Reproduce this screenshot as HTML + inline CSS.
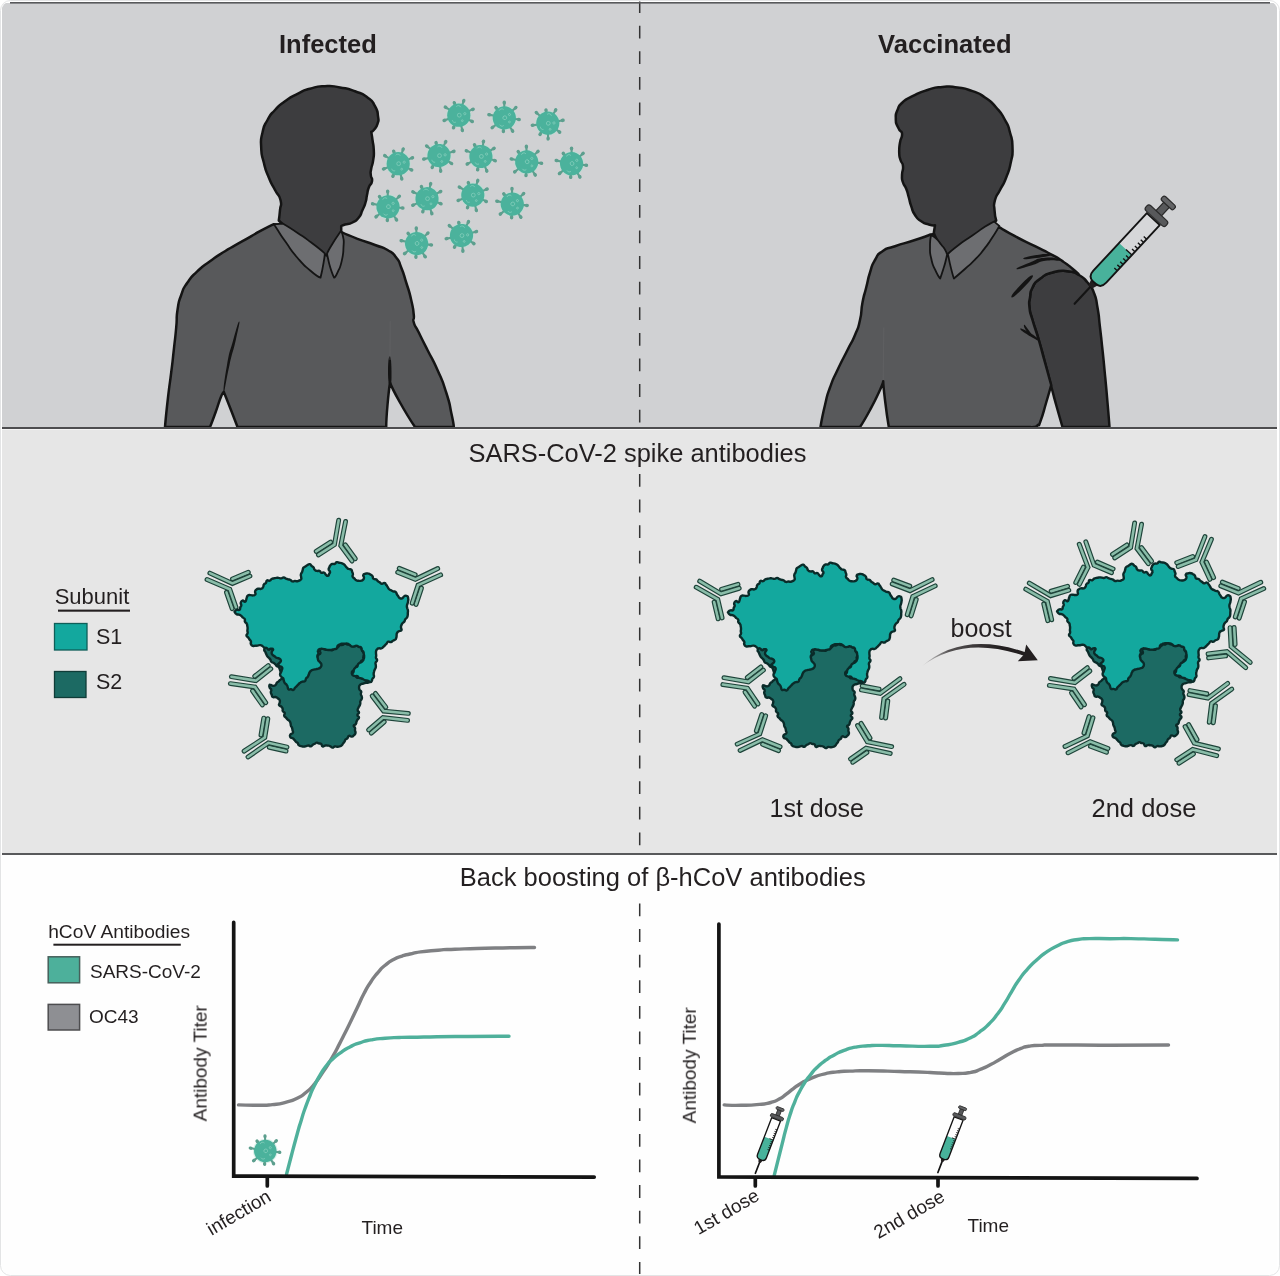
<!DOCTYPE html>
<html><head><meta charset="utf-8">
<style>
html,body{margin:0;padding:0;background:#fff;}
body{width:1280px;height:1276px;overflow:hidden;font-family:"Liberation Sans",sans-serif;}
svg{display:block;}
text{font-family:"Liberation Sans",sans-serif;fill:#231f20;}
</style></head>
<body>
<svg width="1280" height="1276" viewBox="0 0 1280 1276">
<defs>
<clipPath id="frame"><rect x="1.5" y="1.5" width="1276" height="1273" rx="9" ry="9"/></clipPath>
<clipPath id="clip1"><rect x="0" y="0" width="1280" height="427"/></clipPath>
<g id="virus"><circle r="12.7" fill="#b5e3d6" opacity=".5"/><line x1="2.9" y1="-8.5" x2="5.1" y2="-14.8" stroke="#5d9f8e" stroke-width="2.1" stroke-linecap="round"/><ellipse cx="4.9" cy="-14.4" rx="2.1" ry="1.75" transform="rotate(-71 4.9 -14.4)" fill="#5d9f8e"/><line x1="-3.1" y1="-8.5" x2="-4.6" y2="-12.6" stroke="#5d9f8e" stroke-width="2.1" stroke-linecap="round"/><ellipse cx="-4.4" cy="-12.2" rx="2.1" ry="1.75" transform="rotate(-110 -4.4 -12.2)" fill="#5d9f8e"/><line x1="-7.7" y1="-4.6" x2="-13.5" y2="-8.1" stroke="#5d9f8e" stroke-width="2.1" stroke-linecap="round"/><ellipse cx="-13.2" cy="-7.9" rx="2.1" ry="1.75" transform="rotate(-149 -13.2 -7.9)" fill="#5d9f8e"/><line x1="8.3" y1="-3.5" x2="14.4" y2="-6.1" stroke="#5d9f8e" stroke-width="2.1" stroke-linecap="round"/><ellipse cx="14" cy="-5.9" rx="2.1" ry="1.75" transform="rotate(-23 14 -5.9)" fill="#5d9f8e"/><line x1="-8.5" y1="3.1" x2="-14.8" y2="5.4" stroke="#5d9f8e" stroke-width="2.1" stroke-linecap="round"/><ellipse cx="-14.4" cy="5.2" rx="2.1" ry="1.75" transform="rotate(160 -14.4 5.2)" fill="#5d9f8e"/><line x1="8.2" y1="3.8" x2="13.6" y2="6.3" stroke="#5d9f8e" stroke-width="2.1" stroke-linecap="round"/><ellipse cx="13.2" cy="6.2" rx="2.1" ry="1.75" transform="rotate(25 13.2 6.2)" fill="#5d9f8e"/><line x1="-3.5" y1="8.3" x2="-5.4" y2="12.7" stroke="#5d9f8e" stroke-width="2.1" stroke-linecap="round"/><ellipse cx="-5.2" cy="12.3" rx="2.1" ry="1.75" transform="rotate(113 -5.2 12.3)" fill="#5d9f8e"/><line x1="2" y1="8.8" x2="3.6" y2="15.4" stroke="#5d9f8e" stroke-width="2.1" stroke-linecap="round"/><ellipse cx="3.5" cy="15" rx="2.1" ry="1.75" transform="rotate(77 3.5 15)" fill="#5d9f8e"/><circle r="11.6" fill="#4bb29c"/><g fill="none" stroke="#8fd3c1" stroke-width=".8" opacity=".8"><circle cx=".5" cy="0" r="1.9"/><circle cx="6" cy="-1.5" r="1.1"/><path d="M-2.5 -8.5a2.6 2.6 0 0 1 4.5 .5"/><path d="M-6.5 5a2.5 2.5 0 0 0 3.5 2"/><circle cx="3.5" cy="5.5" r=".9"/></g></g><g id="ab" fill="none" stroke-linecap="round" stroke-linejoin="miter"><path d="M-7.4 -1.8L-19.9 10" stroke="#1e443a" stroke-width="4.9"/><path d="M-7.4 -1.8L-19.9 10" stroke="#8abda9" stroke-width="2.55"/><path d="M7.4 -1.8L19.9 10" stroke="#1e443a" stroke-width="4.9"/><path d="M7.4 -1.8L19.9 10" stroke="#8abda9" stroke-width="2.55"/><path d="M-3.5 -24.8L-3.2 0L-17.1 13" stroke="#1e443a" stroke-width="4.9"/><path d="M-3.5 -24.8L-3.2 0L-17.1 13" stroke="#8abda9" stroke-width="2.55"/><path d="M3.5 -24.8L3.2 0L17.1 13" stroke="#1e443a" stroke-width="4.9"/><path d="M3.5 -24.8L3.2 0L17.1 13" stroke="#8abda9" stroke-width="2.55"/></g><g id="syr"><line x1="0" y1="0" x2="0" y2="-13.5" stroke="#141414" stroke-width="1.05" stroke-linecap="round"/><path d="M-1.2 -11.6L1.2 -11.6L2.4 -15L-2.4 -15Z" fill="#231f20"/><path d="M-4.4 -57.8L-4.4 -18.5Q-4.4 -14.5 -0.9 -14.5L0.9 -14.5Q4.4 -14.5 4.4 -18.5L4.4 -57.8Z" fill="#ffffff" fill-opacity=".14"/><path d="M-4.4 -37.4L-4.4 -18.5Q-4.4 -14.5 -0.9 -14.5L0.9 -14.5Q4.4 -14.5 4.4 -18.5L4.4 -37.4Z" fill="#48b29b"/><path d="M4.4 -26.6L2.4 -26.6M4.4 -28.8L2.4 -28.8M4.4 -30.9L2.4 -30.9M4.4 -33.1L2.4 -33.1M4.4 -35.2L2.4 -35.2M4.4 -37.4L0.3 -37.4M4.4 -39.6L2.4 -39.6M4.4 -41.7L2.4 -41.7M4.4 -43.9L2.4 -43.9M4.4 -46L2.4 -46M4.4 -48.2L2.4 -48.2" stroke="#141414" stroke-width="0.7" fill="none"/><path d="M-4.4 -57.8L-4.4 -18.5Q-4.4 -14.5 -0.9 -14.5L0.9 -14.5Q4.4 -14.5 4.4 -18.5L4.4 -57.8Z" fill="none" stroke="#141414" stroke-width="0.95" stroke-linejoin="round"/><rect x="-1.9" y="-67.8" width="3.8" height="6.4" fill="#58595b" stroke="#2b2b2b" stroke-width="0.6"/><rect x="-6.85" y="-61.85" width="13.7" height="3.45" rx="1.4" fill="#58595b" stroke="#2b2b2b" stroke-width="0.6"/><rect x="-4.15" y="-70.2" width="8.3" height="2.7" rx="1.1" fill="#636466" stroke="#2b2b2b" stroke-width="0.6"/></g><g id="syrs"><line x1="0" y1="0" x2="0" y2="-13.5" stroke="#141414" stroke-width="1.7" stroke-linecap="round"/><path d="M-1.2 -11.6L1.2 -11.6L2.4 -15L-2.4 -15Z" fill="#231f20"/><path d="M-4.75 -57.8L-4.75 -18.5Q-4.75 -14.5 -0.9 -14.5L0.9 -14.5Q4.75 -14.5 4.75 -18.5L4.75 -57.8Z" fill="#ffffff" fill-opacity=".14"/><path d="M-4.75 -37.4L-4.75 -18.5Q-4.75 -14.5 -0.9 -14.5L0.9 -14.5Q4.75 -14.5 4.75 -18.5L4.75 -37.4Z" fill="#48b29b"/><path d="M4.8 -26.6L2.8 -26.6M4.8 -28.8L2.8 -28.8M4.8 -30.9L2.8 -30.9M4.8 -33.1L2.8 -33.1M4.8 -35.2L2.8 -35.2M4.8 -37.4L0.7 -37.4M4.8 -39.6L2.8 -39.6M4.8 -41.7L2.8 -41.7M4.8 -43.9L2.8 -43.9M4.8 -46L2.8 -46M4.8 -48.2L2.8 -48.2" stroke="#141414" stroke-width="0.8" fill="none"/><path d="M-4.75 -57.8L-4.75 -18.5Q-4.75 -14.5 -0.9 -14.5L0.9 -14.5Q4.75 -14.5 4.75 -18.5L4.75 -57.8Z" fill="none" stroke="#141414" stroke-width="1.35" stroke-linejoin="round"/><rect x="-1.9" y="-67.8" width="3.8" height="6.4" fill="#58595b" stroke="#2b2b2b" stroke-width="0.8"/><rect x="-6.85" y="-61.85" width="13.7" height="3.45" rx="1.4" fill="#58595b" stroke="#2b2b2b" stroke-width="0.8"/><rect x="-4.15" y="-70.2" width="8.3" height="2.7" rx="1.1" fill="#636466" stroke="#2b2b2b" stroke-width="0.8"/></g><g id="blob" stroke="#0a2b29" stroke-width="2.4" stroke-linejoin="round"><path d="M265.2 647.9C264.9 648.6 264.2 648.5 264.2 649.9C264.2 651.2 264.6 650.5 265.3 651.9C265.9 653.3 265.5 652.6 266.2 654C266.8 655.4 266.4 654.8 267.2 656.1C268.1 657.3 267.8 656.6 268.8 657.8C269.8 658.9 269.4 658.2 270.3 659.5C271.1 660.8 270.3 660.5 271.3 661.7C272.3 662.8 272.1 662 273.4 662.8C274.7 663.6 274.1 663.1 275.2 664.1C276.3 665.2 275.5 665 276.7 666C277.9 667 277.7 666 278.7 667.1C279.7 668.2 279.1 667.8 279.7 669.1C280.2 670.5 279.8 669.9 280.4 671.2C281 672.6 280.3 672.5 281.4 673.2C282.4 673.9 282.3 673.6 283.6 673.3C284.9 673 284.5 673.3 285.3 672.1C286 671 285.8 671.4 285.8 669.8C285.8 668.3 285.6 669.1 285.3 667.5C285.1 666 285.4 666.7 285 665.2C284.6 663.7 284.9 664.4 284.2 663.1C283.4 661.7 283.3 662.6 282.7 661.2C282.1 659.8 282.8 660.3 282.3 658.8C281.8 657.4 282 658.1 281.1 656.8C280.3 655.5 280.7 656.2 279.9 654.9C279 653.7 279.2 654.5 278.5 653.1C277.7 651.7 278.6 652 277.6 650.8C276.7 649.7 276.9 650.5 275.6 649.6C274.3 648.7 275.1 649.1 273.8 648.1C272.6 647.2 273.3 647.5 271.8 646.9C270.4 646.3 271.1 646.6 269.5 646.3C268 646.1 268.6 645.7 267.1 646.2C265.7 646.6 265.9 647.1 265.2 647.7C264.6 648.3 265.6 647.2 265.2 647.9Z" fill="#1c6a63"/><path d="M320.8 649.2C321.8 648.5 321.4 648.7 322.8 648.8C324.3 648.8 323.5 649 325.1 649.4C326.6 649.8 325.9 649.7 327.5 649.8C329.1 649.9 328.3 649.6 329.9 649.7C331.5 649.8 330.9 650.7 332.4 650.2C333.9 649.8 333 649.1 334.4 648.3C335.8 647.5 335.3 648.4 336.7 647.8C338.1 647.2 337.4 647.4 338.6 646.5C339.8 645.6 339 645.6 340.3 645C341.6 644.5 341 645.3 342.6 644.9C344.2 644.4 343.4 643.8 345 643.6C346.5 643.5 345.7 644.1 347.3 644.5C348.9 644.9 348.2 644.4 349.7 644.9C351.2 645.4 350.4 645.5 351.9 646C353.4 646.4 352.6 646.4 354.3 646.2C355.9 646 355.2 645.3 356.8 645.4C358.4 645.5 357.6 645.7 359.1 646.5C360.6 647.4 360.4 646.5 361.3 647.8C362.3 649 361.3 648.8 362 650.3C362.6 651.8 362.3 650.9 363.3 652.2C364.2 653.5 364.8 652.9 364.8 654.3C364.8 655.8 363.7 654.9 363.3 656.6C362.8 658.2 364.1 657.8 363.5 659.2C362.9 660.7 362.4 659.5 361.4 660.8C360.4 662.1 361.3 661.7 360.6 663.2C359.9 664.6 360.6 664.3 359.3 665.3C358 666.2 357.8 665 356.6 666.1C355.5 667.3 356.7 667.3 355.8 668.7C355 670 355.4 669.1 354.1 670.2C352.7 671.3 352.4 670.5 351.9 671.9C351.4 673.4 351.5 673.5 352.6 674.6C353.8 675.8 353.9 674.4 355.3 675.4C356.7 676.4 355.5 676.9 356.9 677.6C358.3 678.3 357.9 677.2 359.5 677.5C361.1 677.8 360.1 678.2 361.7 678.5C363.3 678.8 362.8 677.8 364.2 678.4C365.7 679.1 364.7 679.6 366.1 680.4C367.5 681.2 367.1 680.3 368.5 680.8C369.9 681.2 369.8 681.4 370.3 681.7C370.8 682.1 370.9 681.4 370.1 681.7C369.3 682 369.5 682.3 368 682.7C366.5 683 367.1 682.5 365.6 682.8C364.1 683.1 364.8 683.1 363.3 683.6C361.8 684 362.3 683.5 361.1 684.1C359.9 684.7 360.4 684.4 359.7 685.4C359 686.4 359.2 685.8 359.1 687.2C359.1 688.6 358.9 688.1 359.5 689.5C360.2 691 360.7 690 361.2 691.5C361.6 693.1 360.6 692.5 360.8 694.1C361 695.8 361.4 694.8 361.7 696.4C362 698 362.2 697.3 361.7 698.9C361.3 700.4 360.8 699.5 360.4 701C359.9 702.6 360.5 701.9 360.3 703.5C360 705.1 360.1 704.3 359.5 705.8C358.9 707.3 359 706.4 358.4 707.9C357.8 709.4 357.5 708.7 357.7 710.3C357.8 711.8 359 711 359 712.6C358.9 714.2 357.4 713.4 357.4 715C357.4 716.7 359 715.9 359 717.5C359 719.1 358.3 718.3 357.5 719.7C356.7 721.1 357.1 720.3 356.5 721.7C356 723.1 356.7 722.7 355.8 724C354.9 725.4 354 724.3 353.7 725.6C353.4 726.9 354.5 726.4 355 727.9C355.4 729.5 354.8 728.6 355 730.3C355.2 732 355.8 731.4 355.5 733C355.2 734.6 355.2 734 354 735.2C352.7 736.4 353.4 736.3 351.7 736.6C350 736.8 350.3 735.3 348.9 735.9C347.5 736.4 348.6 736.9 347.5 738.1C346.4 739.4 346.5 738.4 345.5 739.6C344.5 740.8 345.3 740.4 344.5 741.7C343.7 742.9 344 742.1 343.1 743.4C342.2 744.6 342.9 744.4 341.7 745.4C340.5 746.4 341 745.9 339.5 746.4C337.9 746.8 338.7 746.7 337.1 746.8C335.5 746.8 336.3 746.2 334.7 746.5C333.1 746.8 333.8 747.8 332.2 747.6C330.7 747.5 331.6 746.7 330 746.1C328.5 745.4 329.2 745.8 327.6 745.6C326 745.4 326.9 745.2 325.3 745.5C323.6 745.7 324 746.9 322.6 746.4C321.2 745.9 322.4 745 321.2 744C319.9 743 320.2 743.9 318.7 743.4C317.3 743 318.2 742.5 316.9 742.6C315.6 742.7 316.3 743 314.9 743.7C313.5 744.4 314.1 743.8 312.8 744.7C311.5 745.5 312.4 746 310.9 746.3C309.5 746.6 310.1 745.6 308.5 745.5C306.8 745.5 307.7 745.8 306.1 746.1C304.5 746.5 305.3 746.6 303.7 746.6C302 746.6 302.8 746.6 301.2 746.2C299.6 745.7 300 746.2 298.8 745.2C297.6 744.1 298.6 744.2 297.7 743.1C296.7 742 297.1 742.8 296 741.8C294.9 740.7 295.4 741 294.3 739.8C293.2 738.7 294 739.2 292.7 738.3C291.3 737.4 291.1 738.4 290.3 737.1C289.5 735.8 289.5 735.9 290.4 734.5C291.3 733 292.2 734.1 292.9 732.7C293.6 731.2 292.7 731.8 292.5 730.1C292.2 728.5 292.5 729.2 292 727.7C291.5 726.3 291.5 727.2 290.9 725.6C290.4 724.1 291 724.8 290.5 723.2C290 721.7 290.5 722.2 289.5 721C288.5 719.7 288.7 720.6 287.5 719.4C286.4 718.3 287.1 718.8 286 717.6C284.9 716.4 284.6 717.3 284.2 715.8C283.7 714.3 285.1 714.6 284.7 713C284.2 711.5 283.5 712.6 282.8 711.1C282.1 709.7 283.1 710.2 282.6 708.7C282.1 707.2 282.5 707.9 281.3 706.7C280.1 705.5 279.6 706.6 279.1 705.2C278.5 703.8 279.5 704.3 279.7 702.6C279.9 700.8 280.3 701.4 279.6 700C279 698.5 279 699.2 277.7 698.2C276.3 697.2 277.2 697.4 275.5 697C273.9 696.6 274.1 697.8 272.8 697C271.5 696.2 272.3 696.1 271.6 694.6C271 693 270.9 693.9 270.8 692.3C270.7 690.7 271.7 691.2 271.3 689.7C271 688.2 270.3 689.2 269.7 687.7C269 686.2 269.1 686.1 269.4 685.2C269.8 684.3 269.6 684.8 270.8 685C271.9 685.2 271.3 685.8 272.8 685.8C274.4 685.8 274.2 686.1 275.5 685.1C276.9 684.1 275.8 684 276.8 682.7C277.9 681.5 277.5 682.3 278.7 681.3C279.9 680.2 279.1 680.5 280.4 679.7C281.6 678.9 281 678.9 282.5 678.8C283.9 678.7 283.5 678.7 284.8 679.5C286.1 680.3 285.2 680.8 286.4 681.2C287.7 681.7 287.1 681.2 288.6 680.9C290 680.5 289.2 680.7 290.7 680.2C292.3 679.7 291.9 680.3 293.3 679.5C294.7 678.6 294.1 679 294.9 677.5C295.8 676.1 295.2 676.7 295.8 675.2C296.5 673.7 296.2 674.5 296.9 673C297.5 671.5 297.2 672.3 297.9 670.8C298.6 669.3 298 669.9 298.9 668.6C299.9 667.3 299.4 667.8 300.7 666.9C302.1 665.9 301.6 666.6 303 665.8C304.4 664.9 303.8 665.5 304.8 664.3C305.9 663.1 304.9 663.1 306.2 662.1C307.4 661.1 307.1 662 308.5 661.4C310 660.7 309.2 660.9 310.6 660.2C312 659.4 311.3 659.8 312.7 659.1C314.1 658.3 313.4 658.7 314.9 658C316.3 657.3 315.8 657.9 317 656.9C318.2 655.8 317.3 656 318.4 654.8C319.6 653.6 320 654.6 320.4 653.2C320.9 651.9 319.6 652.1 319.8 650.7C319.9 649.4 319.7 649.9 320.8 649.2Z" fill="#1c6a63"/><path d="M235 611.2C235.7 610.4 235.5 610.3 237 609.8C238.6 609.3 238.5 610.5 239.6 609.7C240.7 608.9 239.8 608.8 240.3 607.4C240.9 605.9 241.1 606.8 241.3 605.3C241.4 603.8 240.4 604.4 240.8 602.9C241.2 601.3 241 601 242.4 600.6C243.8 600.2 243.7 601.9 245 601.7C246.2 601.5 245.5 601.3 246.1 600C246.6 598.7 246.1 599.4 246.7 597.9C247.3 596.4 246.6 596.5 247.9 595.5C249.2 594.6 248.9 595.2 250.5 595.1C252.2 595.1 251.3 595.6 252.9 595.4C254.5 595.2 254.6 595.7 255.3 594.5C256.1 593.2 254.8 593.3 255.1 591.6C255.5 590 255.2 590.5 256.5 589.5C257.7 588.5 257.2 588.9 258.9 588.7C260.5 588.4 260 589.4 261.4 588.7C262.9 588.1 262.3 588.2 263.2 586.8C264 585.3 263 585.7 263.9 584.5C264.8 583.2 264.9 584.4 265.9 583.1C266.9 581.8 265.7 581.3 266.9 580.5C268.2 579.7 268.1 581.2 269.7 580.7C271.2 580.2 270.2 579.8 271.6 579C273.1 578.2 272.4 578.7 274 578.3C275.5 578 274.7 578.1 276.3 577.9C277.9 577.8 277.1 577.7 278.8 577.9C280.4 578 279.6 578.5 281.2 578.4C282.8 578.3 282.1 577.5 283.7 577.5C285.2 577.6 284.4 578 285.9 578.6C287.4 579.2 286.7 578.8 288.2 579.3C289.7 579.8 289 579.3 290.5 580C291.9 580.8 291 581.1 292.5 581.4C294 581.7 293.4 581.1 294.9 581C296.5 581 295.7 581.4 297.1 581.3C298.5 581.1 297.7 581.3 299 580.6C300.4 580 300.4 580.6 301.1 579.3C301.8 578 301.1 578.4 301.1 576.8C301 575.2 300.6 575.9 300.9 574.4C301.2 572.8 301.4 573.7 302 572.2C302.6 570.7 302.2 571.4 302.7 569.9C303.2 568.3 302.5 568.7 303.5 567.6C304.6 566.4 304.4 567.2 305.7 566.3C307.1 565.5 306.2 565.7 307.5 565C308.9 564.3 308.4 563.9 309.8 564.2C311.2 564.6 310.5 564.9 311.7 566C313 567 312.6 566.1 313.6 567.4C314.6 568.7 313.5 568.6 314.6 569.7C315.7 570.9 315.3 570.5 316.9 570.9C318.6 571.3 318 570.3 319.5 570.9C321 571.5 319.8 572.2 321.3 572.8C322.9 573.3 322.7 572 324.1 572.6C325.6 573.2 324.4 573.4 325.7 574.5C327 575.6 326.8 576 327.9 575.8C329.1 575.6 328.5 575.2 329.2 573.8C329.9 572.5 330.2 573.2 330 571.8C329.9 570.4 328.9 571.2 328.7 569.6C328.5 568.1 328.8 568.7 329.4 567.2C330 565.7 329.4 566.3 330.4 565.3C331.3 564.2 330.8 564.5 332.2 564C333.7 563.6 333.2 564.4 334.7 563.8C336.2 563.2 335.2 562.5 336.7 562.2C338.2 561.9 337.6 562.5 339.2 562.8C340.7 563.1 340 562.7 341.5 563.1C343 563.6 342.3 563.3 343.6 564.1C344.9 565 344.2 564.5 345.3 565.7C346.4 566.9 345.7 566.6 346.9 567.7C348.1 568.8 347.4 568.4 348.9 569C350.4 569.7 350.2 568.8 351.3 569.7C352.4 570.7 351.6 570.4 352.2 571.9C352.7 573.3 352.8 572.5 352.9 574.1C353.1 575.6 352.1 575.1 352.6 576.5C353 578 353.1 577.2 354.3 578.4C355.5 579.6 354.7 579.3 356.1 580.1C357.6 581 356.9 580.6 358.6 580.8C360.2 581 359.5 581 361 580.7C362.4 580.3 361.9 580.8 362.9 579.8C363.9 578.8 363.9 579.4 364 577.7C364.1 576.1 362.7 576.3 363.3 575C363.8 573.6 364.1 574.2 365.7 573.7C367.4 573.2 366.6 573.3 368.2 573.6C369.8 573.9 369.2 573.7 370.6 574.6C372 575.4 371.5 574.8 372.5 576.2C373.4 577.6 372.3 577.6 373.4 578.7C374.6 579.8 374.6 578.6 376 579.4C377.4 580.2 376.5 580 377.7 581C378.9 582 378.3 581.4 379.6 582.3C381 583.3 380.1 583.5 381.7 583.7C383.3 584 383 582.6 384.5 583C386 583.3 385.2 583.6 386.2 584.9C387.3 586.2 386.7 585.5 387.6 586.9C388.5 588.3 387.8 587.9 388.9 589C390.1 590.2 389.7 589.6 391.1 590.3C392.6 591.1 391.7 590.7 393.3 591.3C394.8 591.8 394.5 591 395.7 592C396.9 592.9 396.1 592.8 396.8 594.2C397.6 595.5 397.1 594.8 398.1 596.1C399.1 597.4 398.3 597.5 399.8 598.1C401.3 598.8 400.9 598.8 402.5 598.1C404.1 597.3 403 596.6 404.5 596C406 595.3 405.9 595.2 407.1 596.1C408.4 597 407.9 596.9 408.2 598.6C408.5 600.2 408.3 599.4 408.1 601.1C407.9 602.7 408 601.9 407.6 603.4C407.2 605 407 604.2 406.9 605.8C406.8 607.3 406.9 606.6 407.2 608.2C407.6 609.7 407.7 608.8 407.9 610.4C408.1 612 407.9 611.2 407.8 612.9C407.7 614.5 408 613.7 407.7 615.3C407.4 616.9 407.7 616.2 406.9 617.6C406 618.9 406.1 618 405.2 619.4C404.4 620.7 405.2 620.3 404.4 621.5C403.5 622.8 403.6 621.9 402.6 623.1C401.7 624.3 402 623.7 401.4 625.2C400.9 626.7 401 625.9 401 627.6C401 629.2 402.1 629 401.4 630.3C400.6 631.5 400.2 630.4 398.8 631.3C397.3 632.3 397.8 631.7 397 633.1C396.3 634.5 396.8 634 396.6 635.5C396.4 637 396.8 636.2 396.3 637.6C395.8 639 396.3 638.7 395.2 639.7C394 640.7 394.4 639.9 392.9 640.7C391.5 641.4 392.4 641.7 390.8 642.1C389.3 642.4 389.6 641.2 388.2 641.7C386.8 642.2 387.7 642.4 386.6 643.6C385.6 644.7 386.1 644 385.1 645.1C384 646.2 384.6 645.8 383.3 646.9C382.1 648 382.8 647.9 381.2 648.4C379.7 648.9 380.1 648 378.7 648.4C377.3 648.7 377.8 648.5 377 649.4C376.1 650.3 376.5 649.8 376.1 651.1C375.8 652.3 376 651.7 376 653.2C376 654.7 376.2 654 376.2 655.6C376.2 657.2 375.7 656.4 376 658C376.3 659.5 377.2 658.7 377.1 660.3C377 661.8 376.1 661.1 375.6 662.7C375.2 664.3 375.7 663.4 375.8 665.1C375.8 666.7 376.1 666 375.7 667.6C375.4 669.1 375.3 668.3 374.7 669.7C374.1 671.2 374.3 670.5 374 672C373.6 673.5 373.7 672.7 373.7 674.3C373.6 675.9 374.3 675.2 373.9 676.8C373.4 678.3 373 677.6 372.3 679C371.6 680.3 372.5 679.8 371.8 680.8C371.2 681.9 371.5 682.1 370.2 682C369 682 369.7 681.4 368.2 680.8C366.7 680.2 367.3 680.7 365.8 680.3C364.3 679.8 365.1 680.1 363.6 679.5C362.2 678.8 363 678.9 361.5 678.4C360 677.8 360.6 678.5 359.1 677.8C357.7 677.1 358.7 676.8 357.2 676.2C355.6 675.6 356.2 676.6 354.6 676C352.9 675.4 352.6 675.8 352.3 674.5C351.9 673.1 353 673.5 353.5 671.9C354 670.3 353.3 671.1 353.9 669.7C354.5 668.3 354.1 668.8 355.3 667.7C356.4 666.6 356.3 667.6 357.3 666.4C358.3 665.2 357.2 665.3 358.2 664C359.2 662.8 358.9 663.5 360.3 662.6C361.7 661.7 361.3 662.4 362.4 661.2C363.5 660 363.1 660.6 363.6 659C364.2 657.4 364.1 658.2 364.1 656.5C364.2 654.9 364.1 655.7 363.8 654.1C363.5 652.6 364 653.3 363.4 651.9C362.7 650.5 362.7 651.5 361.9 650C361.2 648.6 362.2 648.6 361.1 647.5C360 646.5 360.2 647.5 358.7 646.8C357.2 646.2 358.1 645.8 356.5 645.7C354.9 645.5 355.6 646.2 354 646.4C352.4 646.6 353 646.9 351.5 646.3C350 645.7 350.9 645.5 349.5 644.7C348 643.8 348.8 644 347.2 643.7C345.6 643.3 346.4 643.7 344.7 643.7C343 643.7 343.8 643.4 342.2 643.7C340.5 643.9 341.3 643.7 339.8 644.4C338.2 645.1 338.6 644.5 337.7 645.8C336.7 647.2 337.9 647.3 336.8 648.4C335.8 649.5 336 648.7 334.4 649.1C332.8 649.5 333.7 649.4 332.1 649.7C330.5 650.1 331.2 650 329.6 650C328 650.1 328.8 650.1 327.2 649.9C325.6 649.6 326.4 649.6 324.8 649.3C323.3 649 324.1 649 322.6 648.9C321 648.8 321.6 648.4 320.1 649C318.6 649.5 318.6 649.1 318 650.6C317.4 652 318.6 651.6 318.4 653.3C318.2 655 317.6 654.1 317.4 655.7C317.2 657.4 317.4 656.6 317.8 658.2C318.1 659.8 317.6 659.2 318.4 660.6C319.2 662 319.2 661.1 320.2 662.5C321.3 663.9 321.4 663.2 321.4 664.8C321.5 666.3 321.6 666 320.5 667.3C319.5 668.6 319.8 667.9 318.3 668.6C316.8 669.2 317.5 668.8 316 669.2C314.4 669.5 315.1 669.2 313.6 669.7C312 670.1 312.6 669.7 311.2 670.6C309.9 671.6 310.4 671.1 309.6 672.5C308.7 673.9 309.3 673.4 308.7 674.9C308 676.3 308.5 675.7 307.6 677C306.7 678.2 306.8 677.2 306 678.6C305.1 680 306.2 680.2 305 681.2C303.8 682.2 304 681.2 302.4 681.7C300.8 682.2 301.5 681.8 300.2 682.7C298.8 683.6 299.6 683.3 298.4 684.4C297.3 685.5 297.8 684.9 296.7 686.1C295.6 687.2 296.1 686.6 295 687.8C293.9 689.1 294.8 689.3 293.4 689.8C292 690.3 292.5 689.5 290.9 689.3C289.2 689.1 289.6 690.1 288.5 689.2C287.4 688.4 288.3 688.3 287.6 686.8C287 685.3 287.6 686 286.6 684.7C285.7 683.4 285.7 684.3 284.8 683C283.9 681.6 284.4 682.3 283.8 680.8C283.3 679.2 284 679.6 283.2 678.3C282.3 677 282.3 678.1 281.3 676.8C280.3 675.6 280.2 676.1 280.1 674.6C280 673 280.4 673.7 281 672.2C281.5 670.8 281.3 671.8 281.7 670.2C282.1 668.7 282.7 668.9 282.1 667.6C281.6 666.2 281.5 667.1 280 666.2C278.6 665.2 277.8 665.9 277.7 664.7C277.6 663.6 278.6 664.2 279.6 662.8C280.7 661.3 281.1 661.9 280.9 660.4C280.6 659 280.3 659.3 278.8 658.4C277.3 657.6 277.8 658.5 276.4 657.8C275 657.1 275.8 657.3 274.5 656.2C273.2 655.2 273.4 656 272.5 654.7C271.5 653.3 271.5 654 271.7 652.2C271.9 650.4 273.4 650.4 273.1 649.3C272.7 648.2 272.2 648.7 270.7 648.8C269.2 649 269.9 650 268.6 649.7C267.3 649.4 268.2 648.7 266.8 648C265.4 647.4 265.8 648.3 264.3 647.7C262.8 647 263.8 646.8 262.4 646C261 645.1 261.7 645.2 260.1 645.1C258.5 645 259.2 645.4 257.6 645.6C256 645.8 256.9 645.6 255.3 645.7C253.7 645.8 254.3 646.3 252.8 645.8C251.4 645.2 251.5 645.5 250.9 644C250.2 642.5 251.4 642.9 250.9 641.4C250.4 639.9 250.4 640.8 249.5 639.5C248.6 638.2 249.2 638.8 248.2 637.5C247.2 636.2 246.7 637.1 246.5 635.6C246.3 634.1 247.3 634.8 247.6 633.1C247.9 631.5 247.4 632.3 247.4 630.7C247.4 629.2 247.6 630 247.6 628.4C247.6 626.8 247.6 627.6 247.3 626C247 624.4 247.5 625 246.7 623.6C246 622.2 245.6 623.3 245 621.8C244.3 620.3 245.5 620.6 244.8 619.2C244 617.8 244 618.7 242.8 617.5C241.6 616.4 242.4 616.8 241.2 615.8C239.9 614.8 240.6 615.2 239.1 614.6C237.5 614.1 238 614.9 236.6 614.1C235.2 613.3 235.4 613.3 234.9 612.3C234.4 611.3 234.3 612 235 611.2Z" fill="#13a89e"/></g><linearGradient id="arrg" x1="922" y1="0" x2="1000" y2="0" gradientUnits="userSpaceOnUse"><stop offset="0" stop-color="#231f20" stop-opacity=".05"/><stop offset=".35" stop-color="#231f20" stop-opacity=".75"/><stop offset="1" stop-color="#231f20"/></linearGradient>
</defs>
<rect x="0" y="0" width="1280" height="1276" fill="#ffffff"/>
<rect x="0.5" y="0.5" width="1279" height="1275" rx="10" ry="10" fill="#ffffff" stroke="#e3e4e5" stroke-width="1"/>
<g clip-path="url(#frame)">
<rect x="2" y="3" width="1275" height="425" fill="#d0d1d3"/>
<rect x="2" y="429" width="1275" height="425" fill="#e6e6e6"/>
<rect x="2" y="855" width="1275" height="420" fill="#fefefe"/>
<g stroke="#333333" stroke-width="1.5" fill="none" stroke-dasharray="12.8 12.8">
<path d="M639.7 0.1V426"/>
<path d="M639.7 474V852"/>
<path d="M639.7 903.5V1274"/>
</g>
<g clip-path="url(#clip1)"><g stroke="#141414" stroke-width="2.5" stroke-linejoin="round"><path d="M273.8 224.2C273.8 224.2 270.4 225.6 260 231.2C249.6 236.9 254.2 234.6 242.5 241.2C230.8 247.9 235.8 244.6 225 251.2C214.2 257.9 219.2 254.6 210 261.2C200.8 267.9 205 264.2 197.5 271.2C190 278.3 192.9 274.6 187.5 282.5C182.1 290.4 184.6 285.8 181.2 295C177.9 304.2 179.2 299.2 177.5 310C175.8 320.8 177.5 314.2 176.2 327.5C175 340.8 175.4 335 173.8 350C172.1 365 173.2 356.7 171.2 372.5C169.3 388.3 170.1 379.3 168 397.5C165.9 415.7 165 427 165 427C165 427 210 427 210 427C210 427 211.8 422.8 215.5 412.5C219.2 402.2 218.4 402.9 221.2 396.2C224.1 389.6 224 392.5 224 392.5C224 392.5 225.5 396 230 407.5C234.5 419 237.5 427 237.5 427C237.5 427 386.2 427 386.2 427C386.2 427 386.2 419.8 387.5 405C388.8 390.2 390 382.5 390 382.5C390 382.5 391.7 387.7 400 402.5C408.3 417.3 415 427 415 427C415 427 453.8 427 453.8 427C453.8 427 453.8 424 451.2 412.5C448.8 401 450.8 406.7 446.2 392.5C441.7 378.3 443.8 384.2 437.5 370C431.2 355.8 433.8 362.5 427.5 350C421.2 337.5 423.3 341.7 418.8 332.5C414.2 323.3 415.4 328.3 413.8 322.5C412.1 316.7 414.6 322.5 413.8 315C412.9 307.5 413.8 310.8 411.2 300C408.8 289.2 409.6 293.3 406.2 282.5C402.9 271.7 404.6 275.8 401.2 267.5C397.9 259.2 400.8 263.3 396.2 257.5C391.7 251.7 394.6 254.2 387.5 250C380.4 245.8 385 248.8 375 245C365 241.2 368.3 242.9 357.5 238.8C346.7 234.6 342.5 232.5 342.5 232.5C342.5 232.5 273.8 224.2 273.8 224.2Z" fill="#58595b"/><path d="M278.8 220.5C278.8 220.5 279.4 216.8 280 210C280.6 203.2 282.2 206.7 280.5 200C278.8 193.3 278.9 197.5 275 190C271.1 182.5 272.5 186.7 268.8 177.5C265 168.3 266.2 172.5 263.8 162.5C261.2 152.5 261.7 157.5 261.2 147.5C260.8 137.5 260.4 141.7 262.5 132.5C264.6 123.3 263.3 127.5 267.5 120C271.7 112.5 269.2 116.2 275 110C280.8 103.8 277.5 106.7 285 101.2C292.5 95.8 289.2 97.9 297.5 93.8C305.8 89.6 300.8 91.2 310 88.8C319.2 86.2 315 86.7 325 86.2C335 85.8 330 85.8 340 87.5C350 89.2 345.8 87.9 355 91.2C364.2 94.6 360.8 92.5 367.5 97.5C374.2 102.5 371.5 100 375 106.2C378.5 112.5 377.2 110.4 378 116.2C378.8 122.1 378.9 119.2 377.5 123.8C376.1 128.3 375.8 127.3 373.8 130C371.7 132.7 371.2 131.8 371.2 131.8C371.2 131.8 371.7 133.9 372.5 140C373.3 146.1 373.5 143.3 373.8 150C374 156.7 374.1 153.8 373.2 160C372.4 166.2 372.1 163.8 371.2 168.8C370.4 173.8 370.5 170.8 370.8 175C371 179.2 372.7 177.1 372 181.2C371.3 185.4 370.4 182.9 368.8 187.5C367.1 192.1 368.1 190 367 195C365.9 200 367 197.5 365.5 202.5C364 207.5 364.8 205 362.5 210C360.2 215 362.1 213.3 358.8 217.5C355.4 221.7 357.1 220.2 352.5 222.5C347.9 224.8 348.8 223.3 345 224.5C341.2 225.7 341.2 226 341.2 226C341.2 226 341.2 232 341.2 232C341.2 232 339.8 234.7 335 242.5C330.2 250.3 327 255.5 327 255.5C327 255.5 321.1 254.2 305 242.5C288.9 230.8 278.8 220.5 278.8 220.5Z" fill="#3d3d3f"/><path d="M274.1 224.3C274.1 224.3 282.7 223.5 282.7 223.5C282.7 223.5 288.2 226.6 297.6 232.9C307 239.2 301.9 235.5 310.9 242.3C320 249.1 324.7 253.3 324.7 253.3C324.7 253.3 325 254.5 323.6 262.7C322.3 270.8 320.5 277.7 320.5 277.7C320.5 277.7 317.8 277.1 310.2 270.5C302.5 263.9 305.7 267.4 297.6 258C289.5 248.6 292.4 251.5 285.9 242.3C279.3 233.2 281.9 236.6 278 230.6C274.1 224.6 274.1 224.3 274.1 224.3Z" fill="#6d6e71" stroke-width="1.8"/><path d="M340.7 231.3C340.7 231.3 342.1 231.6 343.1 236.8C344 242.1 344 238.9 343.5 247C343.1 255.1 343.6 252.8 341.7 261.1C339.7 269.5 340.2 266.6 337.7 272.1C335.3 277.6 334.2 277.7 334.2 277.7C334.2 277.7 332.6 274.8 330.5 268.2C328.4 261.6 329 262.7 327.9 258C326.8 253.3 327.2 254.1 327.2 254.1C327.2 254.1 326 254.6 330.5 247C335 239.4 340.7 231.3 340.7 231.3Z" fill="#6d6e71" stroke-width="1.8"/></g><path d="M239.2 321.5C238.4 321.5 237.3 325.5 233.2 340C229.2 354.5 230.2 347.5 227 365C223.8 382.5 222.9 392.5 223.8 392.5C224.6 392.5 225.5 382.5 229.5 365C233.5 347.5 232.5 354.5 235.8 340C239 325.5 240.1 321.5 239.2 321.5Z" fill="#141414"/><path d="M389.8 356.2C388.6 356.2 387.9 362.9 388 372.5C388.1 382.1 388.8 385 390 385C391.2 385 391.6 382.1 391.5 372.5C391.4 362.9 390.9 356.2 389.8 356.2Z" fill="#141414"/><path d="M390.2 321.2L390 360" stroke="#67686a" stroke-width=".8" fill="none" opacity=".6"/><g stroke="#141414" stroke-width="2.5" stroke-linejoin="round"><path d="M1030 297.5C1031 290.8 1029.2 293.8 1032.5 287.5C1035.8 281.2 1033.3 283.8 1040 278.8C1046.7 273.8 1043.3 275 1052.5 272.5C1061.7 270 1058.8 270.4 1067.5 271.2C1076.2 272.1 1072.1 271.2 1078.8 275C1085.4 278.8 1082.5 276.7 1087.5 282.5C1092.5 288.3 1090.4 284.2 1093.8 292.5C1097.1 300.8 1095.4 295.8 1097.5 307.5C1099.6 319.2 1098.3 313.3 1100 327.5C1101.7 341.7 1100.8 334.2 1102.5 350C1104.2 365.8 1103.3 357.5 1105 375C1106.7 392.5 1106 385.2 1107.5 402.5C1109 419.8 1109.5 427 1109.5 427C1109.5 427 1062.5 427 1062.5 427C1062.5 427 1060 418.6 1056.2 405C1052.5 391.4 1055 400.4 1051.2 386.2C1047.5 372.1 1049.2 377.9 1045 362.5C1040.8 347.1 1042.9 354.2 1038.8 340C1034.6 325.8 1035.6 330.8 1032.5 320C1029.4 309.2 1030.3 315 1029.5 307.5C1028.7 300 1029 304.2 1030 297.5Z" fill="#3d3d3f"/><path d="M930.5 234.5C930.5 234.5 926.8 236.1 915 240C903.2 243.9 905.8 242.5 895 246.2C884.2 250 889.2 246.7 882.5 251.2C875.8 255.8 879.2 252.9 875 260C870.8 267.1 872.9 263.3 870 272.5C867.1 281.7 868.8 277.5 866.2 287.5C863.8 297.5 864.6 291.7 862.5 302.5C860.4 313.3 862.5 309.2 860 320C857.5 330.8 859.2 325 855 335C850.8 345 853.3 338.3 847.5 350C841.7 361.7 843.3 357.5 837.5 370C831.7 382.5 834.2 375.8 830 387.5C825.8 399.2 828.2 391.8 825 405C821.8 418.2 820.5 427 820.5 427C820.5 427 860 427 860 427C860 427 863.8 421.5 870 410C876.2 398.5 874.3 402.1 878.8 392.5C883.2 382.9 883.2 381.2 883.2 381.2C883.2 381.2 883.2 384.8 885 400C886.8 415.2 888.8 427 888.8 427C888.8 427 1030 427 1030 427C1030 427 1032.3 427.4 1035 426.8C1037.7 426.1 1036.2 426.8 1038 425C1039.8 423.2 1037.8 428.8 1040.5 421.2C1043.2 413.8 1042.7 414.6 1046.2 402.5C1049.8 390.4 1051.2 385 1051.2 385C1051.2 385 1049.2 377.5 1045 362.5C1040.8 347.5 1042.9 354.2 1038.8 340C1034.6 325.8 1035.6 330.8 1032.5 320C1029.4 309.2 1030.3 315 1029.5 307.5C1028.7 300 1029 304.2 1030 297.5C1031 290.8 1029.2 293.8 1032.5 287.5C1035.8 281.2 1033.3 283.8 1040 278.8C1046.7 273.8 1043.3 275 1052.5 272.5C1061.7 270 1058.8 270.6 1067.5 271.2C1076.2 271.9 1078.8 274.5 1078.8 274.5C1078.8 274.5 1077.9 273.2 1072.5 268.8C1067.1 264.3 1070 266.2 1062.5 261.2C1055 256.2 1059.2 258.8 1050 253.8C1040.8 248.8 1046.7 252.1 1035 246.2C1023.3 240.4 1026.7 242.5 1015 236.2C1003.3 230 1000 227.5 1000 227.5C1000 227.5 930.5 234.5 930.5 234.5Z" fill="#58595b"/><path d="M996.2 220.5C996.2 220.5 994.9 216.8 994.5 210C994.1 203.2 993.2 206.7 995 200C996.8 193.3 996.2 197.5 1000 190C1003.8 182.5 1002.7 186.7 1006.2 177.5C1009.8 168.3 1008.7 172.5 1010.8 162.5C1012.8 152.5 1012.8 157.5 1012.5 147.5C1012.2 137.5 1012.5 141.7 1010 132.5C1007.5 123.3 1009.6 128.3 1005 120C1000.4 111.7 1002.9 115 996.2 107.5C989.6 100 992.9 102.9 985 97.5C977.1 92.1 981.7 94.6 972.5 91.2C963.3 87.9 967.5 88.9 957.5 87.5C947.5 86.1 952.5 86.2 942.5 87C932.5 87.8 937.5 86.9 927.5 90C917.5 93.1 920.8 92.1 912.5 96.2C904.2 100.4 907.5 97.9 902.5 102.5C897.5 107.1 899.8 104.6 897.5 110C895.2 115.4 895.8 113.3 895.8 118.8C895.8 124.2 895.7 121.9 897.5 126.2C899.3 130.6 901.2 131.8 901.2 131.8C901.2 131.8 902.4 131.9 902 135.5C901.6 139.1 900.9 136.8 900 142.5C899.1 148.2 899.1 146.7 899.2 152.5C899.4 158.3 899.2 155.4 900.5 160C901.8 164.6 902.5 161.2 903 166.2C903.5 171.2 902 169.6 902 175C902 180.4 901.6 177.9 903 182.5C904.4 187.1 904.3 183.8 906.2 188.8C908.2 193.8 907.1 191.7 908.8 197.5C910.4 203.3 909.2 200.4 911.2 206.2C913.3 212.1 911.7 210 915 215C918.3 220 916.7 218.1 921.2 221.2C925.8 224.4 924.2 223.2 928.8 224.5C933.3 225.8 935 225.2 935 225.2C935 225.2 933.8 233 933.8 233C933.8 233 935.2 237.2 940 245C944.8 252.8 948 256.2 948 256.2C948 256.2 956.4 251.9 972.5 240C988.6 228.1 996.2 220.5 996.2 220.5Z" fill="#3d3d3f"/><path d="M931.2 235.3C931.2 235.3 932.5 235.3 935.9 238.4C939.3 241.5 938.2 240.8 941.3 244.7C944.5 248.6 943.4 246.8 945.3 250.2C947.1 253.6 947 254.9 947 254.9C947 254.9 946.7 256.9 945.4 261.9C944.1 266.9 944.8 264.2 943.1 269.7C941.3 275.3 940.2 278.5 940.2 278.5C940.2 278.5 938 276.3 935.1 269.7C932.1 263.2 933 266.4 931.3 258.8C929.6 251.2 930 254.9 930 247C929.9 239.2 931.2 235.3 931.2 235.3Z" fill="#6d6e71" stroke-width="1.8"/><path d="M994.2 221.6C994.2 221.6 999.3 225.9 999.3 225.9C999.3 225.9 997.3 230 992.3 237.6C987.3 245.2 990.2 241.3 984.5 248.6C978.7 255.9 981.6 252.8 975 259.6C968.5 266.4 971.9 262.6 964.9 269C957.8 275.3 953.9 278.5 953.9 278.5C953.9 278.5 952.6 274.8 950.8 267.4C948.9 260 949.4 260.8 948.4 256.4C947.4 252 947.8 254.2 947.8 254.2C947.8 254.2 948.7 252.6 957 246.2C965.3 239.9 963.3 241.8 972.7 235.3C982.1 228.7 978.1 231.2 985.2 226.6C992.4 222.1 994.2 221.6 994.2 221.6Z" fill="#6d6e71" stroke-width="1.8"/></g><path d="M1023.2 258.8C1022.8 257.8 1026.2 256.8 1035 255.2C1043.8 253.7 1044.3 253.9 1049.5 254C1054.7 254.1 1054.9 254.2 1050.5 255.5C1046.1 256.8 1045.3 256.9 1036.2 258C1027.2 259.1 1023.7 259.7 1023.2 258.8Z" fill="#141414"/><path d="M1016.5 269C1016.1 268 1020.5 266.2 1030 262.5C1039.5 258.8 1034.8 258.8 1045 257.8C1055.2 256.8 1055.5 258.5 1060.5 259.5C1065.5 260.5 1065 260.3 1060 260.8C1055 261.2 1055.1 259.2 1045.5 260.8C1035.9 262.3 1040.9 262.8 1031.2 265.5C1021.6 268.2 1016.9 270 1016.5 269Z" fill="#141414"/><path d="M1011.5 297.2C1010.6 296.2 1013.7 292 1020.8 284.8C1027.8 277.5 1031.8 274.5 1032.8 275.5C1033.7 276.5 1030.6 280.5 1023.5 287.8C1016.4 295 1012.4 298.2 1011.5 297.2Z" fill="#141414"/><path d="M1020.2 329C1019.9 327.8 1023.6 329.2 1030 333C1036.4 336.8 1039.2 339.2 1039.5 340.5C1039.8 341.8 1037.4 340.6 1031 336.8C1024.6 332.9 1020.6 330.2 1020.2 329Z" fill="#141414"/><path d="M1024 325C1024.5 324.3 1025.6 325.9 1028.2 329.5C1030.9 333.1 1032.5 335.1 1032 335.8C1031.5 336.4 1029.4 335.1 1026.8 331.5C1024.1 327.9 1023.5 325.7 1024 325Z" fill="#141414"/><path d="M883.8 327.5L883.2 380" stroke="#67686a" stroke-width=".8" fill="none" opacity=".6"/><use href="#virus" transform="translate(458.8 115.2)"/><use href="#virus" transform="translate(504.3 117.9) rotate(-19)"/><use href="#virus" transform="translate(547.8 123.2) rotate(12)"/><use href="#virus" transform="translate(398.2 163.7)"/><use href="#virus" transform="translate(439 155.6) rotate(7)"/><use href="#virus" transform="translate(480.9 156.5) rotate(-9)"/><use href="#virus" transform="translate(526.7 161.9) rotate(-20)"/><use href="#virus" transform="translate(571.6 163.7) rotate(-19)"/><use href="#virus" transform="translate(388 206.8) rotate(-20)"/><use href="#virus" transform="translate(427 198.7) rotate(-5)"/><use href="#virus" transform="translate(472.8 195.1)"/><use href="#virus" transform="translate(512.3 204.1) rotate(-20)"/><use href="#virus" transform="translate(416.6 243.6) rotate(-20)"/><use href="#virus" transform="translate(461.5 235.5) rotate(8)"/><use href="#syr" transform="translate(1074.6 303.8) rotate(42.9) scale(2.0)"/></g>
<rect x="10" y="2" width="1260" height="1.6" fill="#58595b"/>
<rect x="2" y="427" width="1275" height="2" fill="#4d4d4f"/>
<rect x="2" y="429" width="1275" height="1" fill="#f4f4f4"/>
<rect x="58" y="609.6" width="72" height="2.1" fill="#231f20"/><rect x="54.5" y="623.5" width="32.5" height="26.5" fill="#13a89e" stroke="#0e5f59" stroke-width="1.3"/><rect x="54.5" y="671.5" width="31.5" height="26" fill="#1c6a63" stroke="#103c38" stroke-width="1.3"/><use href="#ab" transform="translate(231.1 586.4) rotate(294)"/><use href="#ab" transform="translate(337.6 545.2) rotate(10.5)"/><use href="#ab" transform="translate(416.7 582.2) rotate(65)"/><use href="#ab" transform="translate(255.4 683.8) rotate(278.5)"/><use href="#ab" transform="translate(383.3 714.3) rotate(96)"/><use href="#ab" transform="translate(266.6 740.2) rotate(236)"/><use href="#ab" transform="translate(719.4 596.6) rotate(300)"/><use href="#ab" transform="translate(911.4 593.6) rotate(64)"/><use href="#ab" transform="translate(747.9 685) rotate(279)"/><use href="#ab" transform="translate(882 696.1) rotate(54)"/><use href="#ab" transform="translate(761.1 736.8) rotate(245)"/><use href="#ab" transform="translate(866.7 744.9) rotate(102)"/><use href="#ab" transform="translate(1049 598.5) rotate(300)"/><use href="#ab" transform="translate(1091 566.3) rotate(340)"/><use href="#ab" transform="translate(1133.8 548) rotate(10)"/><use href="#ab" transform="translate(1198.9 560.9) rotate(22)"/><use href="#ab" transform="translate(1239.8 595.9) rotate(65)"/><use href="#ab" transform="translate(1229 649.1) rotate(130)"/><use href="#ab" transform="translate(1209.7 700.8) rotate(54)"/><use href="#ab" transform="translate(1193.5 746.3) rotate(104)"/><use href="#ab" transform="translate(1088.8 738.8) rotate(244)"/><use href="#ab" transform="translate(1074.4 685.8) rotate(279)"/><use href="#blob" transform="translate(0 0)"/><use href="#blob" transform="translate(493.4 0.5)"/><use href="#blob" transform="translate(822.5 -0.4)"/><path d="M921.5 666.5Q963 630 1026 652.6L1024.6 656Q963 634.6 921.5 666.5Z" fill="url(#arrg)"/><path d="M1037.8 660.2L1026.2 644.6L1024.2 654.3L1017.8 661.2Z" fill="#231f20"/>
<rect x="2" y="853" width="1275" height="2" fill="#58595b"/>
<rect x="53.4" y="943.7" width="127.4" height="2" fill="#231f20"/><rect x="48.2" y="956.8" width="31.4" height="26" fill="#4db09b" stroke="#46605b" stroke-width="1.5"/><rect x="48.2" y="1004.4" width="31.4" height="25.6" fill="#8e8f93" stroke="#4d4d4f" stroke-width="1.5"/><path d="M238.5 1104.9C238.5 1104.9 246.7 1105.3 258 1105.2C269.3 1105.1 262.8 1105.6 272.3 1104.6C281.8 1103.6 277.9 1104.3 286.4 1102.1C294.9 1099.9 291.1 1101.2 297.7 1097.9C304.3 1094.6 300.6 1096.9 306.2 1092.2C311.8 1087.5 309 1090.6 314.6 1083.8C320.2 1077 317.4 1080.3 323.1 1071.8C328.8 1063.3 326 1068 331.6 1058.4C337.2 1048.8 334.4 1053.7 340 1042.9C345.6 1032.1 342.8 1037.4 348.5 1025.9C354.2 1014.4 351.8 1019.1 357 1008.3C362.2 997.5 359.3 1002.4 364 993.5C368.7 984.6 366.4 988.6 371.1 981.5C375.8 974.4 373.4 977.7 378.1 972.3C382.8 966.9 380 969.5 385.2 965.3C390.4 961.1 388 962.7 393.6 959.6C399.2 956.5 396.6 958 402.1 956.1C407.6 954.2 403.8 955.4 410 954C416.2 952.6 411.3 953.2 420.6 951.9C429.9 950.6 426.5 951.1 438 950.2C449.5 949.3 436 949.9 455 949.2C474 948.5 468.5 948.6 495 948C521.5 947.4 534.5 947.5 534.5 947.5" stroke="#7f8083" stroke-width="3.4" fill="none" stroke-linecap="round"/><path d="M286.6 1174C286.6 1174 288.3 1167.3 291.8 1154C295.3 1140.7 294.1 1145.2 297.2 1134C300.3 1122.8 298.5 1129.1 301.2 1120.4C303.9 1111.7 302.1 1116.6 305.2 1108C308.3 1099.4 307.3 1102.1 310.4 1094.5C313.5 1086.9 311.3 1091.9 314.6 1085.3C317.9 1078.7 316.5 1081 320.3 1074.7C324.1 1068.4 322.1 1071.2 325.9 1066.3C329.7 1061.4 326.9 1064.4 331.6 1060C336.3 1055.6 333.9 1057.4 340 1053.1C346.1 1048.8 343.3 1050.4 349.9 1047C356.5 1043.6 352.7 1045.2 359.8 1042.8C366.9 1040.4 362.6 1041.4 371.1 1039.9C379.6 1038.4 375.8 1039 385.2 1038.2C394.6 1037.4 391 1037.8 399.3 1037.5C407.6 1037.2 391.4 1037.6 410 1037.3C428.6 1037 422 1036.9 455 1036.5C488 1036.1 509 1036.2 509 1036.2" stroke="#4fb09b" stroke-width="3.4" fill="none" stroke-linecap="round"/><path d="M233.7 922.4V1176.1L594.2 1177.1" stroke="#141414" stroke-width="3.7" fill="none" stroke-linecap="round" stroke-linejoin="miter"/><path d="M267.3 1177V1186" stroke="#141414" stroke-width="3.7" fill="none" stroke-linecap="round" stroke-linejoin="miter"/><use href="#virus" transform="translate(265.3 1151) rotate(-20) scale(0.97)"/><path d="M724.2 1104.9C724.2 1104.9 729.4 1105.5 741.2 1105.3C753 1105.1 749.6 1105.3 759.5 1104.4C769.4 1103.5 764.2 1104.3 770.8 1102.5C777.4 1100.7 774 1101.8 779.2 1099C784.4 1096.2 781.6 1097.6 786.3 1094.1C791 1090.6 788.7 1092.1 793.4 1088.6C798.1 1085.1 795.7 1086.6 800.4 1083.7C805.1 1080.8 802.3 1082.4 807.5 1080C812.7 1077.6 809.8 1078.5 815.9 1076.4C822 1074.3 818.7 1075.1 825.8 1073.6C832.9 1072.1 829.1 1072.7 837.1 1071.9C845.1 1071.1 839.5 1071.5 849.8 1071.1C860.1 1070.7 851.4 1070.7 868.1 1070.8C884.8 1070.9 879.4 1070.9 900 1071.5C920.6 1072.1 915.3 1071.9 930 1072.5C944.7 1073.1 934.7 1072.9 944.1 1073.2C953.5 1073.5 949.3 1073.8 958.2 1073.5C967.1 1073.2 963.4 1073.7 970.9 1072.3C978.4 1070.9 974.2 1071.8 980.8 1069.2C987.4 1066.6 984.1 1068 990.7 1064.6C997.3 1061.2 993.9 1062.8 1000.5 1059C1007.1 1055.2 1003.8 1056.7 1010.4 1053.3C1017 1049.9 1014.2 1051 1020.3 1048.7C1026.4 1046.4 1022.1 1047.4 1028.7 1046.3C1035.3 1045.2 1030.6 1045.8 1040 1045.4C1049.4 1045 1033.7 1045.1 1057 1045C1080.3 1044.9 1072.8 1045.2 1110 1045.2C1147.2 1045.2 1168.5 1045 1168.5 1045" stroke="#7f8083" stroke-width="3.4" fill="none" stroke-linecap="round"/><path d="M774.3 1175.2C774.3 1175.2 775.2 1171.5 777.8 1161.1C780.4 1150.7 779.3 1155.3 782.1 1144.1C784.9 1132.9 783.5 1137.8 786.3 1127.6C789.1 1117.4 787.7 1122 790.5 1113.4C793.3 1104.8 792 1108.7 794.8 1101.8C797.6 1094.9 795.7 1098.9 799 1092.6C802.3 1086.3 800.8 1088.7 804.6 1082.8C808.4 1076.9 806.1 1080.2 810.3 1075C814.5 1069.8 812.1 1072.2 817.3 1067.3C822.5 1062.4 820.1 1064.3 825.8 1060.2C831.5 1056.1 828.2 1058.3 834.3 1055C840.4 1051.7 837.1 1052.9 844.1 1050.3C851.1 1047.7 847.4 1048.7 855.4 1047.2C863.4 1045.7 859.2 1046.4 868.1 1045.8C877 1045.2 871.6 1045.4 882.2 1045.4C892.8 1045.4 884.1 1045.5 900 1045.8C915.9 1046.1 915.3 1046.5 930 1046.3C944.7 1046.1 934.7 1046.6 944.1 1045.3C953.5 1044 949.7 1044.8 958.2 1042.4C966.7 1040 962.4 1041.6 969.5 1038.2C976.6 1034.8 972.8 1036.9 979.4 1032.1C986 1027.3 983.1 1029.8 989.2 1023.7C995.3 1017.6 992.5 1020.6 997.7 1013.8C1002.9 1007 1000.1 1010.7 1004.8 1003.2C1009.5 995.7 1007.1 999 1011.8 991.3C1016.5 983.6 1013.7 987.3 1018.9 980C1024.1 972.7 1021.2 976.2 1027.3 969.4C1033.4 962.6 1030.6 965.4 1037.2 959.5C1043.8 953.6 1040.5 956.2 1047.1 951.7C1053.7 947.2 1050.4 949.4 1057 946.1C1063.6 942.8 1059.8 944.1 1066.8 941.9C1073.8 939.7 1070.6 940.6 1078.1 939.5C1085.6 938.4 1078.8 938.9 1089.4 938.6C1100 938.3 1096.1 938.7 1110 938.7C1123.9 938.7 1116 938.4 1131 938.6C1146 938.8 1139.5 938.8 1155 939.2C1170.5 939.6 1177.5 939.9 1177.5 939.9" stroke="#4fb09b" stroke-width="3.4" fill="none" stroke-linecap="round"/><path d="M718.9 924V1177L1197 1178.4" stroke="#141414" stroke-width="3.7" fill="none" stroke-linecap="round" stroke-linejoin="miter"/><path d="M755.3 1178V1186M938 1178V1186" stroke="#141414" stroke-width="3.7" fill="none" stroke-linecap="round" stroke-linejoin="miter"/><use href="#syrs" transform="translate(755.4 1173.3) rotate(21)"/><use href="#syrs" transform="translate(937.9 1172.5) rotate(21)"/>
</g>
<g id="texts" opacity=".999">
<text x="279" y="52.8" font-size="25.5" font-weight="700">Infected</text>
<text x="878" y="52.8" font-size="25.6" font-weight="700">Vaccinated</text>
<text x="468.5" y="462" font-size="25.45">SARS-CoV-2 spike antibodies</text>
<text x="54.7" y="604.4" font-size="22">Subunit</text>
<text x="96" y="644.4" font-size="21.5">S1</text>
<text x="96" y="688.8" font-size="21.5">S2</text>
<text x="950.5" y="636.5" font-size="25">boost</text>
<text x="769.5" y="817.2" font-size="25">1st dose</text>
<text x="1091.5" y="817.2" font-size="25.5">2nd dose</text>
<text x="459.8" y="886.2" font-size="25.5">Back boosting of β-hCoV antibodies</text>
<text x="48.2" y="938.1" font-size="19.2">hCoV Antibodies</text>
<text x="90" y="977.5" font-size="19">SARS-CoV-2</text>
<text x="89" y="1022.8" font-size="19">OC43</text>
<text transform="translate(206.6 1121.4) rotate(-90)" font-size="19">Antibody Titer</text>
<text transform="translate(211.5 1236) rotate(-30.5)" font-size="19">infection</text>
<text x="361.5" y="1234.2" font-size="19">Time</text>
<text transform="translate(695.8 1123.4) rotate(-90)" font-size="19">Antibody Titer</text>
<text transform="translate(698.5 1235.2) rotate(-30)" font-size="19">1st dose</text>
<text transform="translate(878.5 1239.2) rotate(-30)" font-size="19">2nd dose</text>
<text x="967.5" y="1231.9" font-size="19">Time</text>
</g>
</svg>
</body></html>
